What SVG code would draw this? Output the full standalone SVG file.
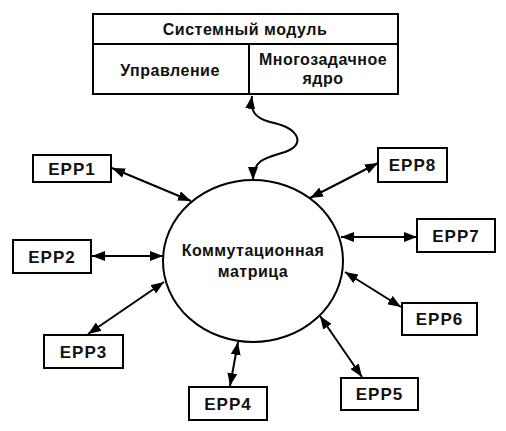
<svg xmlns="http://www.w3.org/2000/svg" width="506" height="431" viewBox="0 0 506 431">
<defs>
<marker id="ah" markerWidth="13" markerHeight="10" refX="13" refY="5" orient="auto-start-reverse" markerUnits="userSpaceOnUse">
<path d="M0,0 L13,5 L0,10 Z" fill="#000"/>
</marker>
<style>
.box{fill:#fff;stroke:#000;stroke-width:2}
.t{font-family:"Liberation Sans",Arial,sans-serif;font-size:16px;font-weight:bold;fill:#111;text-anchor:middle;letter-spacing:0.5px}
.e{font-family:"Liberation Sans",Arial,sans-serif;font-size:17px;font-weight:bold;fill:#111;text-anchor:middle;letter-spacing:1px}
.c{fill:none;stroke:#000;stroke-width:2;marker-start:url(#ah);marker-end:url(#ah)}
</style>
</defs>
<rect width="506" height="431" fill="#fff"/>
<g id="connectors">
<path class="c" d="M252,96 C250,110 254,118 270,122 C300,128 306,145 285,152 C265,158 253,160 253,180"/>
<line class="c" x1="112" y1="168" x2="191" y2="201"/>
<line class="c" x1="92" y1="256" x2="163" y2="256"/>
<line class="c" x1="88" y1="334" x2="164" y2="282"/>
<line class="c" x1="230" y1="386" x2="238" y2="342"/>
<line class="c" x1="362" y1="377" x2="320" y2="316"/>
<line class="c" x1="345" y1="272" x2="401" y2="307"/>
<line class="c" x1="341" y1="237" x2="417" y2="237"/>
<line class="c" x1="310" y1="198" x2="378" y2="163"/>
</g>
<g id="system-module">
<rect class="box" x="93" y="14" width="305" height="80"/>
<line x1="93" y1="44" x2="398" y2="44" stroke="#000" stroke-width="2"/>
<line x1="249" y1="44" x2="249" y2="94" stroke="#000" stroke-width="2"/>
<text class="t" x="245" y="35">Системный модуль</text>
<text class="t" x="170" y="76">Управление</text>
<text class="t" x="323" y="65">Многозадачное</text>
<text class="t" x="323" y="84">ядро</text>
</g>
<g id="matrix">
<ellipse cx="253" cy="261" rx="90" ry="81" fill="none" stroke="#000" stroke-width="2"/>
<text class="t" x="253" y="256">Коммутационная</text>
<text class="t" x="253" y="277">матрица</text>
</g>
<g id="epp1"><rect class="box" x="33" y="155" width="78" height="27"/><text class="e" x="72" y="174.5">EPP1</text></g>
<g id="epp2"><rect class="box" x="13" y="240" width="78" height="33"/><text class="e" x="52" y="262.5">EPP2</text></g>
<g id="epp3"><rect class="box" x="44" y="335" width="79" height="33"/><text class="e" x="83.5" y="357.5">EPP3</text></g>
<g id="epp4"><rect class="box" x="189" y="387" width="78" height="33"/><text class="e" x="228" y="409.5">EPP4</text></g>
<g id="epp5"><rect class="box" x="341" y="378" width="77" height="32"/><text class="e" x="379.5" y="400">EPP5</text></g>
<g id="epp6"><rect class="box" x="402" y="303" width="75" height="32"/><text class="e" x="439.5" y="325">EPP6</text></g>
<g id="epp7"><rect class="box" x="417" y="219" width="78" height="33"/><text class="e" x="456" y="241.5">EPP7</text></g>
<g id="epp8"><rect class="box" x="378" y="148" width="69" height="34"/><text class="e" x="412.5" y="171">EPP8</text></g>
</svg>
